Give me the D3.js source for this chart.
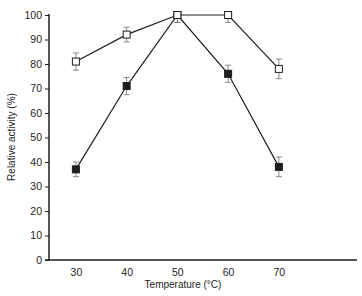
<!DOCTYPE html>
<html><head><meta charset="utf-8">
<script src="https://cdn.jsdelivr.net/npm/d3@7"></script>
<style>body{margin:0;background:#fff;}svg{display:block;font-family:"Liberation Sans",Arial,sans-serif;}</style>
</head><body>
<svg id="c" width="362" height="296"></svg>
<script>
const temps = [30, 40, 50, 60, 70];
const openVals = [81, 92, 100, 100, 78];
const openErr = [3.5, 3, 3, 3, 4];
const filledVals = [37, 71, 100, 76, 38];
const filledErr = [3, 3.5, 3, 3.5, 4];
const yTicks = [0, 10, 20, 30, 40, 50, 60, 70, 80, 90, 100];
const xTicks = [30, 40, 50, 60, 70];

const svg = d3.select("#c");
const x = d3.scaleLinear().domain([24.7, 85.4]).range([49, 357]);
const y = d3.scaleLinear().domain([0, 100]).range([260, 15]);
const col = "#1e1e1e";

// axes
const ya = svg.append("g").attr("transform", "translate(49,0)")
  .call(d3.axisLeft(y).tickValues(yTicks).tickSize(4).tickPadding(3));
ya.select(".domain").attr("d", `M0,${y(100)-1}V${y(0)}`).attr("stroke", col).attr("stroke-width", 1.5);
ya.selectAll(".tick line").attr("stroke", col);
ya.selectAll("text").attr("font-size", 10.5).attr("fill", col).attr("font-family", "Liberation Sans, Arial, sans-serif");

const xa = svg.append("g").attr("transform", "translate(0,260)")
  .call(d3.axisBottom(x).tickValues(xTicks).tickSize(0).tickPadding(9));
xa.select(".domain").attr("d", `M45,0H357`).attr("stroke", col).attr("stroke-width", 1.5);
xa.selectAll("text").attr("font-size", 10.5).attr("fill", col).attr("font-family", "Liberation Sans, Arial, sans-serif");

svg.append("text").attr("x", 183).attr("y", 288).attr("text-anchor", "middle")
  .attr("font-size", 10).attr("fill", col).text("Temperature (°C)");
svg.append("text").attr("transform", "translate(15,137) rotate(-90)").attr("text-anchor", "middle")
  .attr("font-size", 10).attr("fill", col).text("Relative activity (%)");

function series(vals, errs, filled) {
  const g = svg.append("g");
  const data = temps.map((t, i) => ({t, v: vals[i], e: errs[i]}));
  // error bars
  data.forEach(d => {
    const eg = g.append("g").attr("stroke", "#888").attr("stroke-width", 1);
    eg.append("line").attr("x1", x(d.t)).attr("x2", x(d.t)).attr("y1", y(Math.min(d.v + d.e, 100.6))).attr("y2", y(d.v - d.e));
    if (d.v + d.e <= 101) eg.append("line").attr("x1", x(d.t) - 3).attr("x2", x(d.t) + 3).attr("y1", y(d.v + d.e)).attr("y2", y(d.v + d.e));
    eg.append("line").attr("x1", x(d.t) - 3).attr("x2", x(d.t) + 3).attr("y1", y(d.v - d.e)).attr("y2", y(d.v - d.e));
  });
  g.append("path").datum(data).attr("fill", "none").attr("stroke", col).attr("stroke-width", 1.2)
    .attr("d", d3.line().x(d => x(d.t)).y(d => y(d.v)));
  g.selectAll("rect").data(data).join("rect")
    .attr("x", d => x(d.t) - 3.5).attr("y", d => y(d.v) - 3.5).attr("width", 7).attr("height", 7)
    .attr("fill", filled ? "#1e1e1e" : "#fff").attr("stroke", col).attr("stroke-width", 1);
}
series(filledVals, filledErr, true);
series(openVals, openErr, false);
</script>
</body></html>
